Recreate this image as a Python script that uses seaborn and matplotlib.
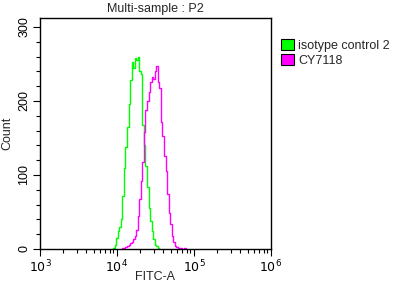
import numpy as np
import pandas as pd
import matplotlib
matplotlib.use("Agg")
import matplotlib.pyplot as plt
import seaborn as sns
from matplotlib.patches import Patch
from matplotlib.ticker import MultipleLocator, LogLocator, FixedLocator

# histogram bins (log10 of FITC-A) and counts
iso_log = [3.94, 3.96, 3.98, 4.00, 4.02, 4.04, 4.06, 4.08, 4.10, 4.12, 4.14,
           4.16, 4.18, 4.20, 4.22, 4.24, 4.26, 4.28, 4.30, 4.32, 4.34, 4.36,
           4.38, 4.40, 4.42, 4.44, 4.46, 4.48, 4.50, 4.52, 4.54, 4.56]
iso_count = [0, 2, 6, 15, 24, 30, 40, 72, 110, 138, 165,
             196, 228, 252, 244, 258, 255, 260, 240, 236, 168, 140,
             112, 84, 56, 38, 24, 13, 6, 4, 2, 0]

cy_log = [4.06, 4.08, 4.10, 4.12, 4.14, 4.16, 4.18, 4.20, 4.22, 4.24, 4.26,
          4.28, 4.30, 4.32, 4.34, 4.36, 4.38, 4.40, 4.42, 4.44, 4.46, 4.48,
          4.50, 4.52, 4.54, 4.56, 4.58, 4.60, 4.62, 4.64, 4.66, 4.68, 4.70,
          4.72, 4.74, 4.76, 4.78, 4.80, 4.82, 4.84, 4.86, 4.88, 4.90]
cy_count = [0, 1, 2, 3, 4, 6, 8, 10, 13, 18, 26,
            45, 68, 92, 118, 158, 188, 200, 212, 226, 232, 230,
            240, 247, 226, 218, 172, 152, 126, 106, 74, 48, 34,
            18, 10, 4, 3, 2, 1, 1, 0, 1, 0]

series_names = ["isotype control 2", "CY7118"]
series_colors = ["#00FF00", "#FF00FF"]

sns.set_style("ticks")
plt.rcParams["font.family"] = ["Liberation Sans", "DejaVu Sans"]

fig = plt.figure(figsize=(4.07, 2.87), dpi=100)
ax = fig.add_axes([40 / 407, 1 - 249 / 287, 231 / 407, 231 / 287])

df_iso = pd.DataFrame({"x": 10 ** np.array(iso_log), "count": iso_count})
df_cy = pd.DataFrame({"x": 10 ** np.array(cy_log), "count": cy_count})

sns.lineplot(data=df_iso, x="x", y="count", ax=ax, color=series_colors[0],
             drawstyle="steps-mid", linewidth=1.0)
sns.lineplot(data=df_cy, x="x", y="count", ax=ax, color=series_colors[1],
             drawstyle="steps-mid", linewidth=1.0)

ax.set_xscale("log")
ax.set_xlim(1e3, 1e6)
ax.set_ylim(0, 312)
ax.xaxis.set_major_locator(FixedLocator([1e3, 1e4, 1e5, 1e6]))
ax.xaxis.set_minor_locator(LogLocator(base=10, subs=np.arange(2, 10)))
ax.set_xticklabels([r"$10^3$", r"$10^4$", r"$10^5$", r"$10^6$"])
ax.yaxis.set_major_locator(MultipleLocator(100))
ax.yaxis.set_minor_locator(MultipleLocator(20))
for lbl in ax.get_yticklabels():
    lbl.set_rotation(90)
    lbl.set_va("center")

ax.tick_params(axis="both", which="major", length=5, width=0.8, labelsize=9,
               color="black", labelcolor="black", pad=2)
ax.tick_params(axis="both", which="minor", length=3, width=0.8, color="black")
for s in ax.spines.values():
    s.set_color("black")
    s.set_linewidth(1.0)

ax.set_xlabel("FITC-A", fontsize=9)
ax.set_ylabel("Count", fontsize=9)
ax.xaxis.set_label_coords(0.5, -0.095)
ax.yaxis.set_label_coords(-0.117, 0.5)
ax.set_title("Multi-sample : P2", fontsize=9, pad=4)

handles = [Patch(facecolor=c, edgecolor="black", linewidth=0.8) for c in series_colors]
fig.legend(handles, series_names, loc="upper left",
           bbox_to_anchor=(276 / 407, 1 - 34 / 287), frameon=False,
           fontsize=9, handlelength=1.0, handleheight=1.0,
           handletextpad=0.4, labelspacing=0.15, borderaxespad=0)

fig.savefig("out.png", dpi=100)
